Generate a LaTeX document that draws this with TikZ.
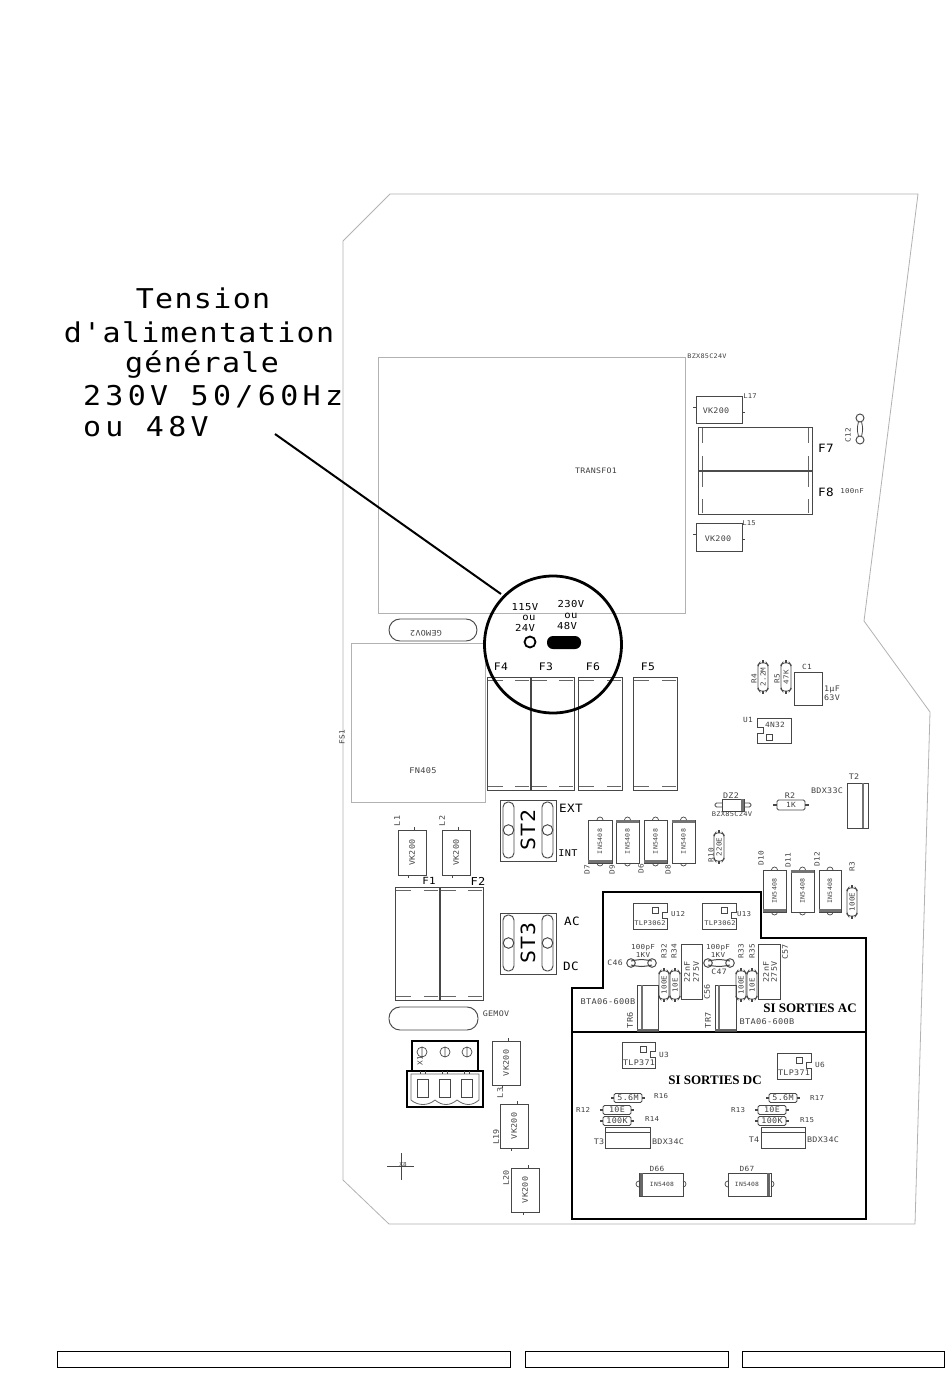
\documentclass[tikz,border=0pt]{standalone}
\usepackage{fontspec}
\newfontfamily\cad[Scale=1.09,FakeStretch=1.1,LetterSpace=4]{DejaVu Sans Mono}
\newfontfamily\cadw[Scale=1.09,FakeStretch=1.1,LetterSpace=5]{DejaVu Sans Mono}
\newfontfamily\cadx[Scale=1.09,FakeStretch=1.1,LetterSpace=16]{DejaVu Sans Mono}
\newfontfamily\serifb{Liberation Serif}
\newcounter{nn}
\tikzset{
 comp/.style={draw=black!72,line width=0.95pt},
 board/.style={draw=black!30,line width=0.8pt},
 heavy/.style={draw=black,line width=2.6pt,line join=miter},
 lbl/.style={inner sep=0pt,outer sep=0pt,text=black!75},
 lblk/.style={inner sep=0pt,outer sep=0pt,text=black},
 title/.style={inner sep=0pt,outer sep=0pt,text=black},
}
% text: [rotation]{x}{y}{size}{text}
\newcommand{\tx}[5][0]{\stepcounter{nn}\node[lbl,rotate=#1] (t\thenn) at ({#2},{#3}) {\cad\fontsize{#4}{#4}\selectfont #5};}
\newcommand{\tk}[5][0]{\stepcounter{nn}\node[lblk,rotate=#1] (t\thenn) at ({#2},{#3}) {\cad\fontsize{#4}{#4}\selectfont #5};}
% fuses
\newcommand{\fuseV}[4]{\draw[comp] (#1,#3) rectangle (#2,#4);
 \draw[comp,black!60] (#1+1,#3+3.5) -- (#1+16,#3+3.5) (#2-15,#3+3.5) -- (#2-1,#3+3.5)
  (#1+1,#4-3.5) -- (#1+16,#4-3.5) (#2-15,#4-3.5) -- (#2-1,#4-3.5);}
\newcommand{\fuseH}[4]{\draw[comp] (#1,#3) rectangle (#2,#4);
 \draw[comp,black!60] (#1+4,#3+1) -- (#1+4,#3+16) (#1+4,#4-15) -- (#1+4,#4-1)
  (#2-4,#3+1) -- (#2-4,#3+16) (#2-4,#4-15) -- (#2-4,#4-1);}
% VK200 vertical: x1 x2 y1 y2 toplead bottomlead
\newcommand{\vkV}[6]{\draw[comp] (#1,#3) rectangle (#2,#4) (#5,#3) -- (#5,#3-3) (#6,#4) -- (#6,#4+3);
 \tx[90]{(#1+#2)/2}{(#3+#4)/2}{7}{VK200}}
% resistors
\newcommand{\resV}[3]{\draw[comp,rounded corners=1.5pt] (#1-5,#2-12) -- (#1-5,#2+12) -- (#1-3.5,#2+14) -- (#1+3.5,#2+14) -- (#1+5,#2+12) -- (#1+5,#2-12) -- (#1+3.5,#2-14) -- (#1-3.5,#2-14) -- cycle;
 \draw[comp,line width=1.6pt] (#1,#2-14) -- (#1,#2-17) (#1,#2+14) -- (#1,#2+17);
 \tx[90]{#1}{#2}{6.3}{#3}}
\newcommand{\resH}[3]{\draw[comp,rounded corners=1.5pt] (#1-14,#2-4.5) -- (#1+14,#2-4.5) -- (#1+14,#2+4.5) -- (#1-14,#2+4.5) -- cycle;
 \draw[comp,line width=1.6pt] (#1-14,#2) -- (#1-17,#2) (#1+14,#2) -- (#1+17,#2);
 \tx{#1}{#2}{7}{#3}}
% vertical diode: x1 x2 y1 y2 stripe y
\newcommand{\diodeV}[5]{\draw[comp] (#1,#3) rectangle (#2,#4);
 \fill[black!55] (#1,#5) rectangle (#2,#5+3);
 \draw[comp,line width=0.7pt] ({(#1+#2)/2-3},#3) arc[start angle=180,end angle=0,x radius=3,y radius=-3];
 \draw[comp,line width=0.7pt] ({(#1+#2)/2-3},#4) arc[start angle=180,end angle=360,x radius=3,y radius=-3];
 \tx[90]{(#1+#2)/2}{(#3+#4)/2}{5.5}{IN5408}}
% jumper block
\newcommand{\stblock}[3]{\draw[comp] (500,#1) rectangle (556,#1+61);
 \draw[comp,rounded corners=5pt] (503,#1+2) rectangle (514,#1+58) (542,#1+2) rectangle (553,#1+58);
 \draw[comp] (508.5,#1+30) circle (5.3) (547.5,#1+30) circle (5.3);
 \tk[90]{528}{#1+30}{#2}{#3}}
% optocoupler with notch on right: x1 x2 y1 y2
\newcommand{\opto}[4]{\draw[comp] (#1,#3) -- (#2,#3) -- (#2,#3+9) -- (#2-5,#3+9) -- (#2-5,#3+15) -- (#2,#3+15) -- (#2,#4) -- (#1,#4) -- cycle;
 \draw[comp] (#2-15,#3+4) rectangle (#2-9,#3+10);}
% axial capacitor (horizontal)
\newcommand{\capH}[3]{\draw[comp,line width=1pt] (#1,#3-2) .. controls ({(#1+#2)/2},#3-4) .. (#2,#3-2) (#1,#3+2) .. controls ({(#1+#2)/2},#3+4) .. (#2,#3+2);
 \draw[comp] (#1,#3) circle (4.3) (#2,#3) circle (4.3);}
\begin{document}
\begin{tikzpicture}[x=1pt,y=-1pt]
\useasboundingbox (0,0) rectangle (950,1397);
\fill[white] (0,0) rectangle (950,1397);
% board
\draw[board] (343,241) -- (390,194) -- (918,194) -- (864,621) -- (930,712) -- (915,1224) -- (389,1224) -- (343,1180) -- cycle;
\draw[board] (378,357) rectangle (685,613);
\draw[board] (351,643) rectangle (485,802);
\tx{596}{471}{6.9}{TRANSFO1}
\tx{423}{771}{7.2}{FN405}
\tx[90]{342}{737}{6.5}{FS1}
\tx{707}{356}{5.7}{BZX85C24V}
% title
\coordinate (leadstart) at (275,434);
\coordinate (leadend) at (501,594);
\node[title,font=\cadw\fontsize{25}{25}\selectfont] (tl1) at (203,298) {Tension};
\node[title,font=\cadw\fontsize{25}{25}\selectfont] (tl2) at (199,332) {d'alimentation};
\node[title,font=\cadw\fontsize{25}{25}\selectfont] (tl3) at (202,365) {générale};
\node[title,font=\cadx\fontsize{25}{25}\selectfont,anchor=west] (tl4) at (83,397) {230V 50/60Hz};
\node[title,font=\cadx\fontsize{25}{25}\selectfont,anchor=west] (tl5) at (83,427) {ou 48V};
% fuses F4 F3 F6 F5
\fuseV{487}{530}{677}{790}
\fuseV{531}{574}{677}{790}
\fuseV{578}{622}{677}{790}
\fuseV{633}{677}{677}{790}
\tk{501}{667}{9.5}{F4}
\tk{546}{667}{9.5}{F3}
\tk{593}{667}{9.5}{F6}
\tk{648}{667}{9.5}{F5}
% detail circle
\node[circle,draw=black,line width=2.8pt,minimum size=137pt,inner sep=0pt] (detail) at (553,644.5) {};
\draw[black,line width=2pt] (leadstart) -- (leadend);
\tk{525}{607}{8.8}{115V}
\tk{529}{618}{8.8}{ou}
\tk{525}{628}{8.8}{24V}
\tk{571}{604}{8.8}{230V}
\tk{571}{616}{8.8}{ou}
\tk{567}{626}{8.8}{48V}
\draw[black,line width=1.8pt] (530,642) circle (5.5);
\fill[black,rounded corners=6pt] (547,636) rectangle (581,649);
% GEMOV
\draw[comp,rounded corners=11pt] (389,619) rectangle (477,641);
\tx[180]{426}{633}{7}{GEMOV2}
\draw[comp,rounded corners=11pt] (389,1007) rectangle (478,1030);
\tx{496}{1014}{7}{GEMOV}
% ST2 ST3
\stblock{800}{18}{ST2}
\stblock{913}{18}{ST3}
\tk{571}{808}{10.5}{EXT}
\tk{568}{853}{8.5}{INT}
\tk{572}{921}{10.5}{AC}
\tk{571}{966}{10.5}{DC}
% L1 L2
\vkV{398}{426}{830}{875}{414}{408}
\vkV{442}{470}{830}{875}{458}{452}
\tx[90]{397}{821}{7}{L1}
\tx[90]{442}{821}{7}{L2}
% F1 F2
\fuseV{395}{439}{887}{1000}
\fuseV{440}{483}{887}{1000}
\tk{429}{881}{9}{F1}
\tk{478}{881}{10}{F2}
% terminal block
\draw[black,line width=1.3pt] (412,1041) rectangle (478,1071);
\draw[black,line width=1.3pt] (407,1071) rectangle (483,1107);
\draw[comp,line width=0.7pt] (422,1052) circle (5) (422,1047) -- (422,1057)
 (445,1052) circle (5) (445,1047) -- (445,1057)
 (467,1052) circle (5) (467,1047) -- (467,1057);
\tx[90]{420}{1061}{6.5}{X1}
\draw[comp,line width=0.8pt,draw=black!60] (411,1100) -- (411,1074) -- (479,1074) -- (479,1100)
 .. controls (472,1106) and (465,1106) .. (457,1100)
 .. controls (450,1106) and (442,1106) .. (435,1100)
 .. controls (428,1106) and (418,1106) .. (411,1100);
\draw[comp] (417,1079) rectangle (428,1097) (439,1079) rectangle (450,1097) (461,1079) rectangle (472,1097);
\draw[comp,line width=0.6pt] (420,1071) -- (420,1074) (425,1071) -- (425,1074) (442,1071) -- (442,1074) (447,1071) -- (447,1074) (464,1071) -- (464,1074) (469,1071) -- (469,1074);
% L3 L19 L20
\vkV{492}{520}{1041}{1085}{508}{502}
\vkV{500}{528}{1104}{1148}{517}{511}
\vkV{511}{539}{1168}{1212}{528}{523}
\tx[90]{500}{1093}{7}{L3}
\tx[90]{496}{1137}{7}{L19}
\tx[90]{506}{1178}{7}{L20}
% cross
\coordinate (crossL) at (387,1166); \coordinate (crossR) at (414,1166);
\coordinate (crossT) at (401,1153); \coordinate (crossB) at (401,1180);
\draw[comp,line width=0.7pt] (crossL) -- (crossR) (crossT) -- (crossB);
\tx{403}{1165}{5}{X8}
% top right
\draw[comp] (696,396) rectangle (742,423) (696,407) -- (693,407) (742,412) -- (745,412);
\tx{716}{411}{7}{VK200}
\tx{750}{396}{6}{L17}
\draw[comp] (696,523) rectangle (742,551) (696,534) -- (693,534) (742,539) -- (745,539);
\tx{718}{539}{7}{VK200}
\tx{749}{523}{6}{L15}
\fuseH{698}{812}{427}{471}
\fuseH{698}{812}{471}{514}
\draw[black!70,line width=1.8pt] (698,471) -- (812,471);
\tk{826}{448}{10.5}{F7}
\tk{826}{492}{10.5}{F8}
\tx{852}{491}{6.2}{100nF}
\tx[90]{848}{435}{6.5}{C12}
\draw[comp] (860,418) circle (4) (860,440) circle (4);
\draw[comp,line width=0.8pt] (858.4,422) .. controls (857,429) .. (858.4,436) (861.6,422) .. controls (863,429) .. (861.6,436);
% R4 R5 C1 U1
\resV{763}{677}{2.2M}
\resV{786}{677}{47K}
\tx[90]{754}{679}{6.5}{R4}
\tx[90]{777}{679}{6.5}{R5}
\draw[comp] (794,672) rectangle (822,705);
\tx{807}{667}{6.5}{C1}
\tx{832}{690}{7}{1µF}
\tx{832}{698}{7}{63V}
\draw[comp] (757,718) -- (791,718) -- (791,743) -- (757,743) -- (757,733) -- (763,733) -- (763,727) -- (757,727) -- cycle;
\draw[comp] (766,734) rectangle (772,740);
\tx{775}{725}{6.6}{4N32}
\tx{748}{720}{6.5}{U1}
% T2
\draw[comp] (847,783) rectangle (868,828);
\draw[black!55,line width=1.8pt] (863,783) -- (863,828);
\tx{854}{777}{7}{T2}
\tx{827}{791}{7}{BDX33C}
% R2
\draw[comp,rounded corners=1.5pt] (777,800) -- (805,800) -- (805,810) -- (777,810) -- cycle;
\draw[comp,line width=1.4pt] (777,805) -- (773,805) (805,805) -- (809,805);
\tx{791}{805}{6.5}{1K}
\tx{790}{796}{7}{R2}
% DZ2
\draw[comp] (722,799) rectangle (744,811);
\fill[black!55] (741,799) rectangle (744,811);
\draw[comp,line width=0.8pt,rounded corners=1.5pt] (722,803) -- (715,803) -- (715,807) -- (722,807) (744,803) -- (751,803) -- (751,807) -- (744,807);
\tx{731}{796}{7}{DZ2}
\tx{732}{814}{5.9}{BZX85C24V}
% R10
\resV{719}{847}{220E}
\tx[90]{711}{855}{6.5}{R10}
% diodes row 1
\diodeV{588}{612}{820}{863}{860}
\diodeV{616}{639}{820}{863}{820}
\diodeV{644}{667}{820}{863}{860}
\diodeV{672}{695}{820}{863}{820}
\tx[90]{587}{870}{6.5}{D7}
\tx[90]{612}{870}{6.5}{D9}
\tx[90]{641}{869}{6.5}{D6}
\tx[90]{668}{870}{6.5}{D8}
% diodes row 2
\diodeV{763}{786}{870}{912}{909}
\diodeV{791}{814}{870}{912}{870}
\diodeV{819}{841}{870}{912}{909}
\tx[90]{761}{858}{6.5}{D10}
\tx[90]{788}{860}{6.5}{D11}
\tx[90]{817}{859}{6.5}{D12}
\tx[90]{852}{867}{6.5}{R3}
\resV{852}{902}{100E}
% heavy regions
\draw[heavy] (603,892) -- (761,892) -- (761,938) -- (866,938) -- (866,1032) -- (572,1032) -- (572,988) -- (603,988) -- cycle;
\draw[heavy] (572,1032) rectangle (866,1219);
% U12 U13
\opto{633}{667}{903}{929}
\opto{702}{736}{903}{929}
\tx{650}{923}{5.9}{TLP3062}
\tx{720}{923}{5.9}{TLP3062}
\tx{678}{914}{6.2}{U12}
\tx{744}{914}{6.2}{U13}
% C46 C47
\tx{643}{948}{6.3}{100pF}
\tx{643}{955}{6.3}{1KV}
\tx{615}{963}{6.8}{C46}
\capH{631}{652}{963}
\tx{718}{948}{6.3}{100pF}
\tx{718}{955}{6.3}{1KV}
\tx{719}{972}{6.8}{C47}
\capH{708}{730}{963}
% R32..R35
\tx[90]{664}{951}{6.5}{R32}
\tx[90]{674}{951}{6.5}{R34}
\tx[90]{741}{951}{6.5}{R33}
\tx[90]{752}{951}{6.5}{R35}
\resV{664}{985}{100E}
\resV{675}{985}{10E}
\resV{741}{985}{100E}
\resV{752}{985}{10E}
% C56 C57
\draw[comp] (681,944) rectangle (702,999);
\tx[90]{687}{972}{7}{22nF}
\tx[90]{696}{972}{7}{275V}
\tx[90]{707}{992}{7}{C56}
\draw[comp] (758,944) rectangle (780,999);
\tx[90]{766}{972}{7}{22nF}
\tx[90]{774}{972}{7}{275V}
\tx[90]{785}{952}{7}{C57}
% TR6 TR7
\draw[comp] (637,985) rectangle (658,1031);
\draw[black!55,line width=1.2pt] (642,985) -- (642,1031);
\fill[black!60] (637,1029) rectangle (658,1031);
\tx[90]{630}{1020}{7.2}{TR6}
\tx{608}{1002}{7.2}{BTA06-600B}
\draw[comp] (715,985) rectangle (736,1031);
\draw[black!55,line width=1.2pt] (719,985) -- (719,1031);
\fill[black!60] (715,1029) rectangle (736,1031);
\tx[90]{708}{1020}{7.2}{TR7}
\tx{767}{1022}{7.2}{BTA06-600B}
\node[inner sep=0pt] (siac) at (810,1008) {\serifb\bfseries\fontsize{13}{13}\selectfont SI SORTIES AC};
\node[inner sep=0pt] (sidc) at (715,1080) {\serifb\bfseries\fontsize{13}{13}\selectfont SI SORTIES DC};
% DC region
\opto{622}{655}{1042}{1068}
\tx{639}{1063}{7}{TLP371}
\tx{664}{1055}{6.5}{U3}
\opto{777}{811}{1053}{1079}
\tx{794}{1073}{7}{TLP371}
\tx{820}{1065}{6.5}{U6}
\resH{628}{1098}{5.6M}
\resH{617}{1110}{10E}
\resH{617}{1121}{100K}
\tx{661}{1096}{6.2}{R16}
\tx{583}{1110}{6.2}{R12}
\tx{652}{1119}{6.2}{R14}
\draw[comp] (605,1127) rectangle (650,1148) (605,1132) -- (650,1132);
\tx{599}{1142}{7}{T3}
\tx{668}{1142}{7}{BDX34C}
\resH{783}{1098}{5.6M}
\resH{772}{1110}{10E}
\resH{772}{1121}{100K}
\tx{817}{1098}{6.2}{R17}
\tx{738}{1110}{6.2}{R13}
\tx{807}{1120}{6.2}{R15}
\draw[comp] (761,1127) rectangle (805,1148) (761,1132) -- (805,1132);
\tx{754}{1140}{7}{T4}
\tx{823}{1140}{7}{BDX34C}
% D66 D67
\draw[comp] (639,1173) rectangle (683,1196);
\fill[black!60] (640,1173) rectangle (643,1196);
\draw[comp,line width=0.7pt] (639,1181) arc[start angle=90,end angle=270,x radius=3,y radius=-3] (683,1181) arc[start angle=90,end angle=-90,x radius=3,y radius=-3];
\tx{662}{1184}{5.3}{IN5408}
\tx{657}{1169}{6.5}{D66}
\draw[comp] (728,1173) rectangle (771,1196);
\fill[black!60] (767,1173) rectangle (770,1196);
\draw[comp,line width=0.7pt] (728,1181) arc[start angle=90,end angle=270,x radius=3,y radius=-3] (771,1181) arc[start angle=90,end angle=-90,x radius=3,y radius=-3];
\tx{747}{1184}{5.3}{IN5408}
\tx{747}{1169}{6.5}{D67}
% title block
\draw[black,line width=1pt] (57,1351) rectangle (510,1367) (525,1351) rectangle (728,1367) (742,1351) rectangle (944,1367);
\end{tikzpicture}
\end{document}
